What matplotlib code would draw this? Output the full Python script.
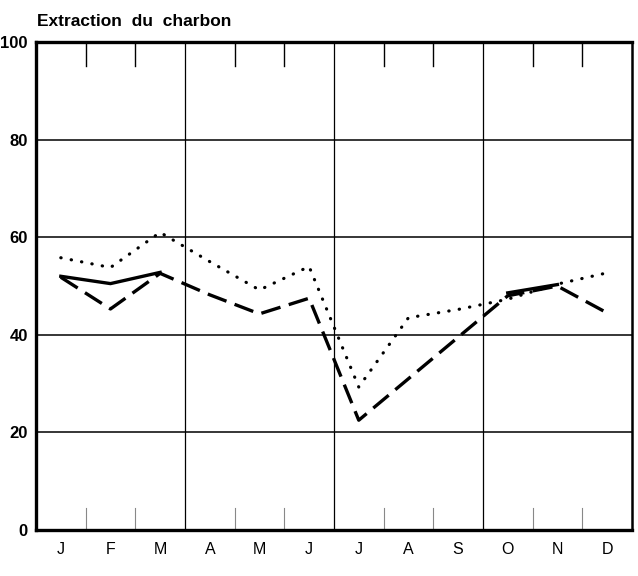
import matplotlib
matplotlib.use("Agg")
from matplotlib import pyplot as plt

# Months and the three curves
months = ["J", "F", "M", "A", "M", "J", "J", "A", "S", "O", "N", "D"]
dotted = [55.8, 53.8, 61.0, 55.0, 49.2, 54.0, 29.3, 43.5, 45.2, 47.3, 50.4, 52.7]
dashed = [51.8, 45.3, 52.6, 48.2, 44.3, 47.5, 22.5, 31.0, 39.5, 48.0, 50.0, 44.5]
solid = [52.0, 50.5, 52.8, None, None, None, None, None, None, 48.6, 50.3, None]
y_ticks = [0, 20, 40, 60, 80, 100]

plt.rcParams["font.family"] = ["Liberation Sans", "DejaVu Sans"]

fig = plt.figure(figsize=(6.38, 5.76), dpi=100)
ax = fig.add_axes([0.0564, 0.0799, 0.934, 0.847])

x = list(range(len(months)))
ax.set_xlim(-0.5, 11.5)
ax.set_ylim(0, 100)

# Grid: horizontal lines, quarter lines, short month ticks
for v in y_ticks[1:-1]:
    ax.axhline(v, color="black", lw=1.1, zorder=1)
for b in [2.5, 5.5, 8.5]:
    ax.axvline(b, color="black", lw=0.9, zorder=1)
for b in [0.5, 1.5, 3.5, 4.5, 6.5, 7.5, 9.5, 10.5]:
    ax.plot([b, b], [100, 95.2], color="black", lw=1.0, zorder=1)
    ax.plot([b, b], [0, 4.5], color="#888888", lw=0.8, zorder=1)

# Curves
ax.plot(x, dotted, color="black", lw=2.3, linestyle=(0, (0.1, 3.2)),
        dash_capstyle="round", zorder=3)
ax.plot(x, dashed, color="black", lw=2.4, linestyle=(0, (6, 2.6)),
        zorder=3)
solid_x = [i for i, v in enumerate(solid) if v is not None]
ax.plot(solid_x[:3], solid[:3], color="black", lw=2.4, zorder=3)
ax.plot(solid_x[3:], [solid[i] for i in solid_x[3:]], color="black", lw=2.4, zorder=3)

# Frame
for side in ["top", "bottom", "left"]:
    ax.spines[side].set_linewidth(2.4)
ax.spines["right"].set_linewidth(1.8)

ax.set_xticks(x)
ax.set_xticklabels(months, fontsize=11.5)
ax.set_yticks(y_ticks)
ax.set_yticklabels([str(v) for v in y_ticks], fontsize=12, fontweight="bold")
ax.tick_params(axis="both", length=0)
ax.tick_params(axis="x", pad=9)
ax.tick_params(axis="y", pad=6)

fig.text(0.058, 0.955, "Extraction  du  charbon", fontsize=12.5,
         fontweight="bold", ha="left", va="baseline")

fig.savefig("out.png", dpi=100, facecolor="white")
